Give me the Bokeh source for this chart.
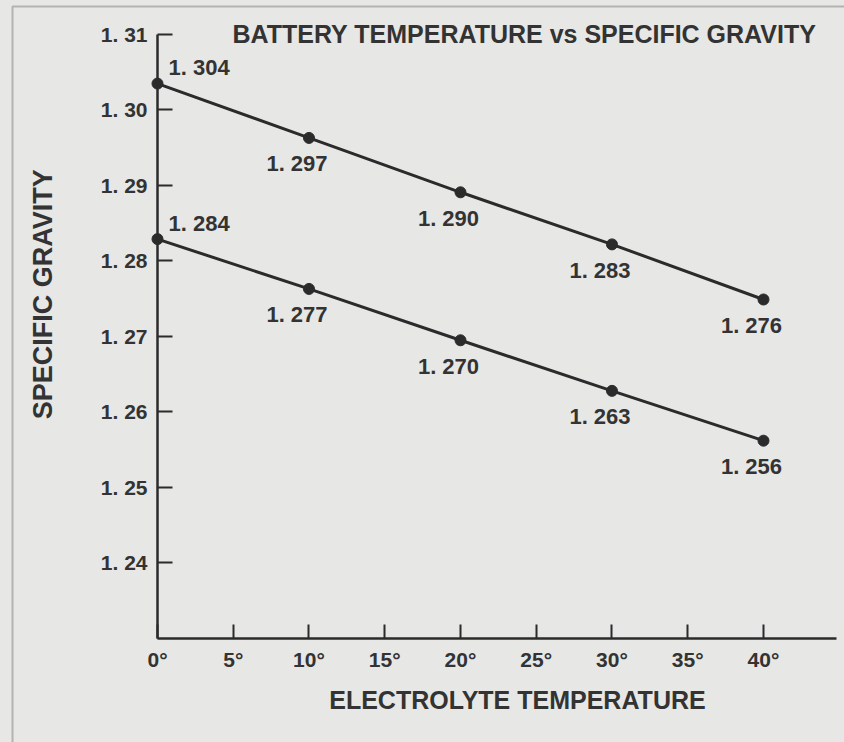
import numpy as np
from bokeh.plotting import figure
from bokeh.models import Range1d, FixedTicker, Label, BoxAnnotation
from bokeh.core.properties import value
from bokeh.embed import file_html
from bokeh.resources import INLINE

# ---- data ----
temps = [0, 10, 20, 30, 40]
sg_upper = [1.3035, 1.2963, 1.2891, 1.2822, 1.2749]
sg_lower = [1.2829, 1.2763, 1.2695, 1.2628, 1.2562]
upper_labels = ["1. 304", "1. 297", "1. 290", "1. 283", "1. 276"]
lower_labels = ["1. 284", "1. 277", "1. 270", "1. 263", "1. 256"]

x_ticks = [0, 5, 10, 15, 20, 25, 30, 35, 40]
x_tick_labels = ["0°", "5°", "10°", "15°", "20°", "25°", "30°", "35°", "40°"]
y_ticks = [1.24, 1.25, 1.26, 1.27, 1.28, 1.29, 1.30, 1.31]
y_tick_labels = ["1. 24", "1. 25", "1. 26", "1. 27", "1. 28", "1. 29", "1. 30", "1. 31"]

title_text = "BATTERY TEMPERATURE vs SPECIFIC GRAVITY"
x_title = "ELECTROLYTE TEMPERATURE"
y_title = "SPECIFIC GRAVITY"

# ---- style ----
BG = "#e7e7e6"
INK = "#2b2b2b"
TXT = "#333333"
FONT = "Liberation Sans"

# the frame fills the whole canvas; axes are pinned inside it
p = figure(width=844, height=742, output_backend="svg", toolbar_location=None,
           title=None, x_range=Range1d(-10.363, 45.347),
           y_range=Range1d(1.216225, 1.314503),
           min_border=0)
p.background_fill_color = BG
p.border_fill_color = BG
p.outline_line_color = None
p.grid.visible = False

for ax in (p.xaxis[0], p.yaxis[0]):
    ax.axis_line_color = INK
    ax.axis_line_width = 2.5
    ax.major_tick_line_color = INK
    ax.major_tick_line_width = 2
    ax.minor_tick_line_color = None
    ax.major_tick_out = 0
    ax.major_label_text_font = FONT
    ax.major_label_text_font_style = "bold"
    ax.major_label_text_font_size = "21px"
    ax.major_label_text_color = TXT
    ax.major_label_standoff = 10

p.xaxis.ticker = FixedTicker(ticks=x_ticks)
p.xaxis.major_label_overrides = dict(zip(x_ticks, x_tick_labels))
p.xaxis.major_tick_in = 14
p.xaxis.bounds = (0, 44.82)
p.xaxis.fixed_location = 1.23

p.yaxis.ticker = FixedTicker(ticks=y_ticks)
p.yaxis.major_label_overrides = dict(zip(y_ticks, y_tick_labels))
p.yaxis.major_tick_in = 15
p.yaxis.bounds = (1.23, 1.31)
p.yaxis.fixed_location = 0

# outer frame of the printed figure (left and top edges)
p.add_layout(BoxAnnotation(left=-9.571, right=100, top=1.31371, bottom=1.0,
                           fill_color=None, fill_alpha=0,
                           line_color="#3a3a3a", line_width=2))

# lines and points
for sg in (sg_upper, sg_lower):
    p.line(temps, sg, line_color=INK, line_width=3)
    p.scatter(temps, sg, size=11, fill_color=INK, line_color=INK)

# value annotations
p.text(x=temps[1:] + temps[1:], y=sg_upper[1:] + sg_lower[1:],
       text=upper_labels[1:] + lower_labels[1:],
       x_offset=-12, y_offset=26, text_align="center", text_baseline="middle",
       text_font=value(FONT), text_font_style="bold", text_font_size="22px",
       text_color=TXT)
p.text(x=[temps[0], temps[0]], y=[sg_upper[0], sg_lower[0]],
       text=[upper_labels[0], lower_labels[0]],
       x_offset=11, y_offset=-16, text_align="left", text_baseline="middle",
       text_font=value(FONT), text_font_style="bold", text_font_size="22px",
       text_color=TXT)

# title and axis titles
p.add_layout(Label(x=4.95, y=1.3101, text=title_text, text_align="left",
                   text_baseline="middle", text_font=FONT, text_font_style="bold",
                   text_font_size="25px", text_color=TXT))
p.add_layout(Label(x=23.76, y=1.2218, text=x_title, text_align="center",
                   text_baseline="middle", text_font=FONT, text_font_style="bold",
                   text_font_size="25px", text_color=TXT))
p.add_layout(Label(x=-7.59, y=1.2756, text=y_title, text_align="center",
                   text_baseline="middle", angle=np.pi / 2, text_font=FONT,
                   text_font_style="bold", text_font_size="27px", text_color=TXT))

html = file_html(p, INLINE)
html = html.replace("<head>", "<head><style>body{background:%s;}</style>" % BG, 1)
open("out.html", "w").write(html)
